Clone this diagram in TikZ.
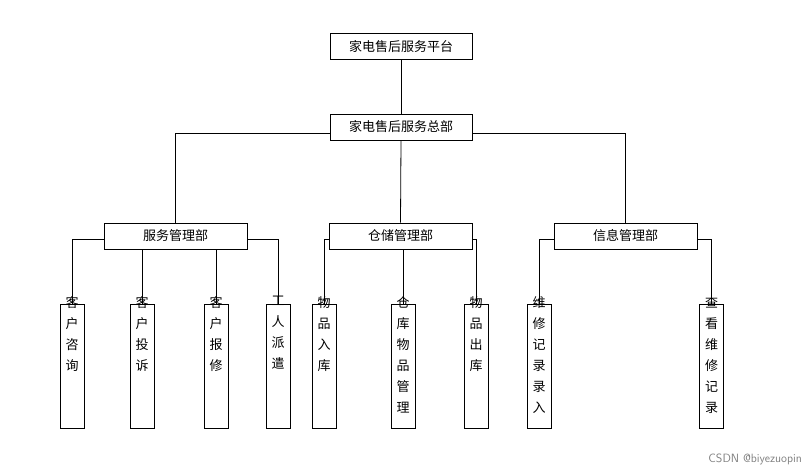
\documentclass[tikz,border=0pt]{standalone}
\usepackage{fontspec}
\setmainfont{Noto Sans CJK SC}
\begin{document}
\begin{tikzpicture}[x=1pt,y=-1pt,
  box/.style={draw,line width=0.9pt,inner sep=0pt,font=\fontsize{13}{15}\selectfont},
  leaf/.style={draw,line width=0.9pt,inner sep=0pt,minimum width=24pt,minimum height=124pt,anchor=north},
  ltext/.style={align=center,anchor=north,inner sep=0pt,font=\fontsize{13}{21}\selectfont},
  ln/.style={line width=0.8pt}]
\useasboundingbox (0,0) rectangle (808,470);
\node[box,minimum width=142pt,minimum height=26pt] (top) at (401,46.5) {家电售后服务平台};
\node[box,minimum width=142pt,minimum height=26pt] (hq) at (401,127) {家电售后服务总部};
\node[box,minimum width=143pt,minimum height=26pt] (a) at (175.5,236) {服务管理部};
\node[box,minimum width=143pt,minimum height=26pt] (b) at (400.5,236) {仓储管理部};
\node[box,minimum width=143pt,minimum height=26pt] (c) at (625.5,236) {信息管理部};
\foreach \n/\x/\t in {l1/72/客\\户\\咨\\询, l2/142/客\\户\\投\\诉, l3/216/客\\户\\报\\修, l4/278/工\\人\\派\\遣, l5/324/物\\品\\入\\库, l6/403/仓\\库\\物\\品\\管\\理, l7/476/物\\品\\出\\库, l8/539/维\\修\\记\\录\\录\\入, l9/711.5/查\\看\\维\\修\\记\\录}{
  \node[leaf] (\n) at (\x,304) {};
  \node[ltext] at ([yshift=8pt]\n.north) {\t};
}
\draw[ln] (top) -- (hq);
\draw[ln] (hq.south) -- (b.north);
\draw[ln] (hq.west) ++(0,6) coordinate (hl) -- (hl -| a.north) -- (a.north);
\draw[ln] (hq.east) ++(0,6) coordinate (hr) -- (hr -| c.north) -- (c.north);
\draw[ln] ([yshift=-3pt]a.west) -| (l1.north);
\draw[ln] ([yshift=-3pt]a.east) -| (l4.north);
\draw[ln] (a.south -| l2.north) -- (l2.north);
\draw[ln] (a.south -| l3.north) -- (l3.north);
\draw[ln] ([yshift=-3pt]b.west) -| (l5.north);
\draw[ln] ([yshift=-3pt]b.east) -| (l7.north);
\draw[ln] (b.south -| l6.north) -- (l6.north);
\draw[ln] ([yshift=-3pt]c.west) -| (l8.north);
\draw[ln] ([yshift=-3pt]c.east) -| (l9.north);
\node[anchor=south east,inner sep=3pt,text=gray,font=\fontfamily{}\sffamily\fontsize{12}{14}\selectfont] (wm) at (805,468) {CSDN @biyezuopin};
\end{tikzpicture}
\end{document}
